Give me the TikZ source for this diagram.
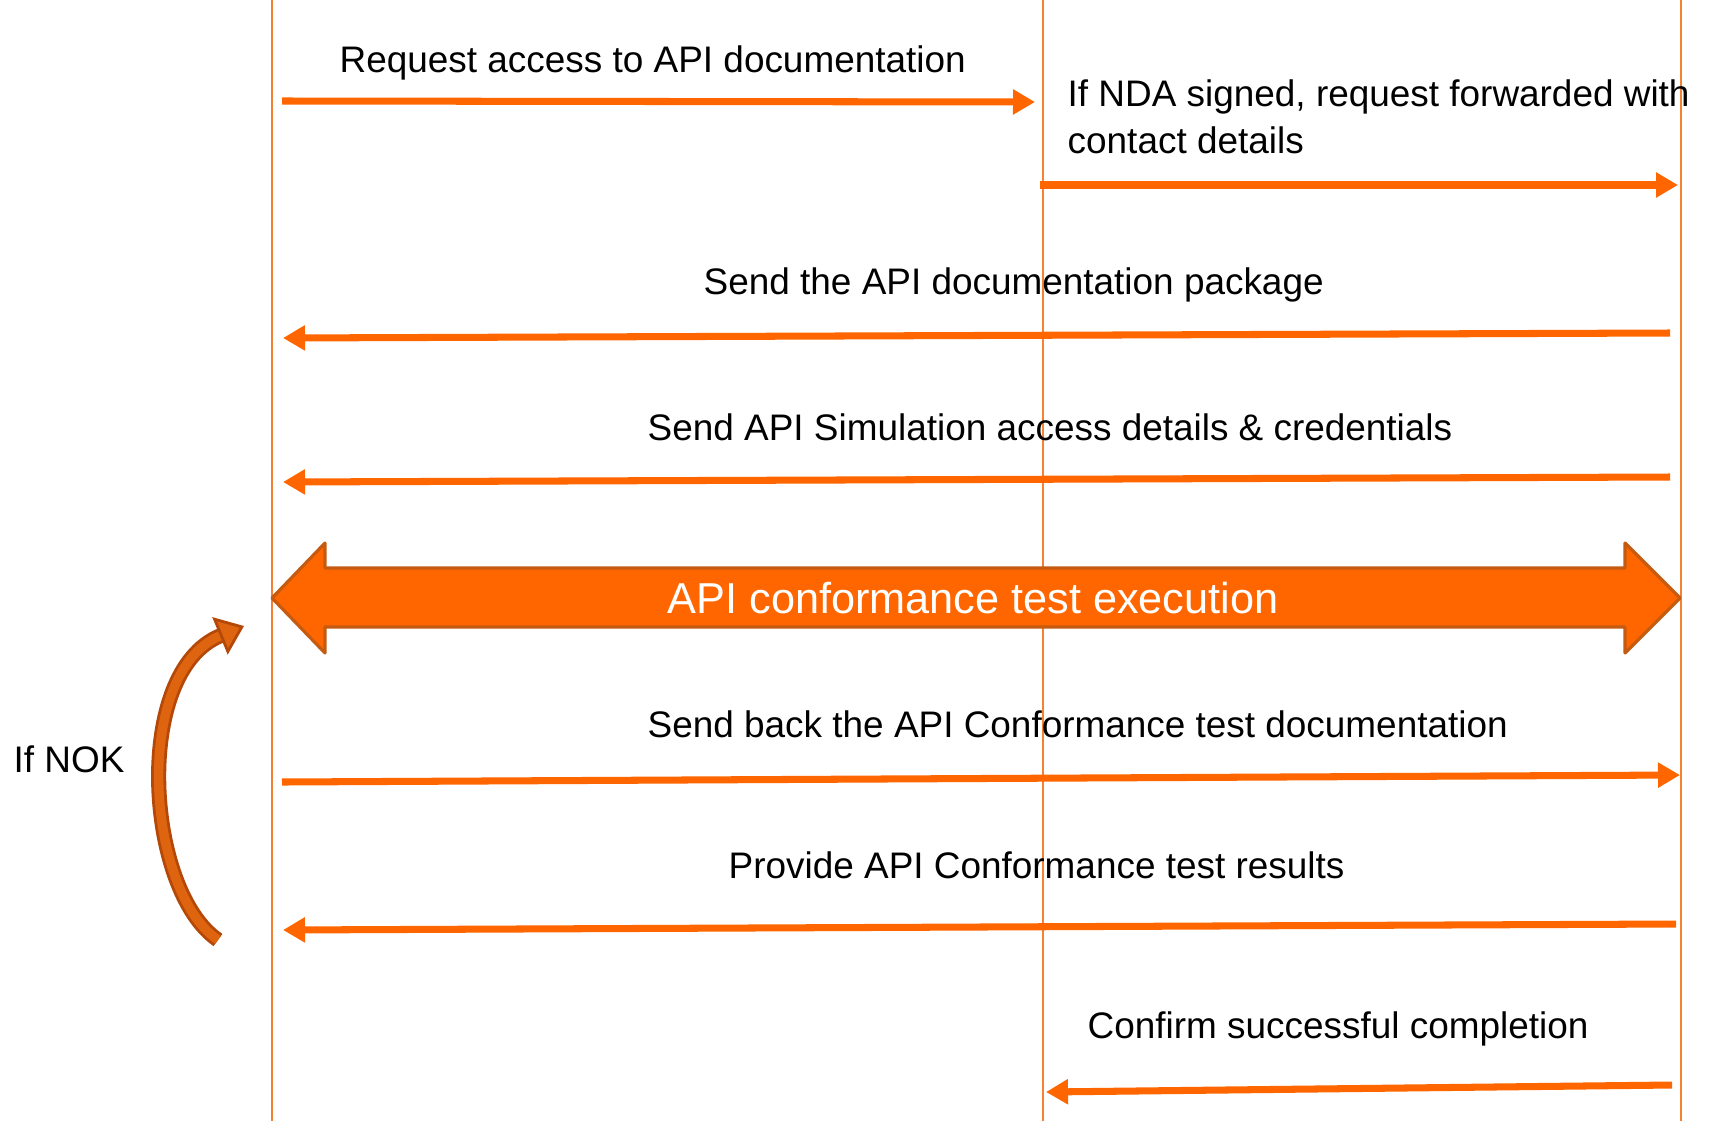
\documentclass[tikz,border=0pt]{standalone}
\usepackage{fontspec}
\setmainfont{Liberation Sans}
\usetikzlibrary{arrows.meta}
\definecolor{lifeorange}{RGB}{245,130,50}
\definecolor{msgorange}{RGB}{255,102,0}
\definecolor{edgeorange}{RGB}{197,90,17}
\definecolor{nokorange}{RGB}{222,100,16}
\definecolor{nokedge}{RGB}{180,72,8}

\begin{document}
\begin{tikzpicture}[
    x=0.01cm, y=-0.01cm,
    life/.style={draw=lifeorange, line width=0.5pt},
    msg/.style={draw=msgorange, line width=2pt, ->},
    lbl/.style={anchor=base west, inner sep=0pt, font=\fontsize{10.5}{13.4}\selectfont},
    bigarrow/.style={fill=msgorange, draw=edgeorange, line width=0.9pt, line join=round},
    nok/.style={draw=nokedge, line width=0.8pt, double=nokorange, double distance=0.095cm,
        -{Triangle[length=0.26cm, width=0.40cm, fill=nokorange, line width=0.8pt]}},
    >={Triangle[length=0.22cm, width=0.24cm]}
]
    \useasboundingbox (0,0) rectangle (1710,1121);

    % 生命线 (3条竖线)
    \coordinate (L0) at (272,0);   \coordinate (L1) at (272,1121);   % 左
    \coordinate (M0) at (1043,0);  \coordinate (M1) at (1043,1121);  % 中
    \coordinate (R0) at (1681,0);  \coordinate (R1) at (1681,1121);  % 右
    \draw[life] (L0) -- (L1);
    \draw[life] (M0) -- (M1);
    \draw[life] (R0) -- (R1);

    % --- 消息 1, 2 ---
    \coordinate (m1s) at (282,101);   \coordinate (m1e) at (1035,102);
    \coordinate (m2s) at (1040,185);  \coordinate (m2e) at (1678,185);
    \draw[msg] (m1s) -- (m1e);
    \draw[msg] (m2s) -- (m2e);
    \node[lbl] (t1) at (339,72) {Request access to API documentation};
    \node[lbl, anchor=north west, align=left] (t2) at (1067,79)
        {If NDA signed, request forwarded with\\contact details};

    % --- 消息 3, 4 (从右到左) ---
    \coordinate (m3s) at (1670,333);  \coordinate (m3e) at (283,338);
    \coordinate (m4s) at (1670,477);  \coordinate (m4e) at (283,482);
    \draw[msg] (m3s) -- (m3e);
    \draw[msg] (m4s) -- (m4e);
    \node[lbl] (t3) at (703,294) {Send the API documentation package};
    \node[lbl] (t4) at (647,440) {Send API Simulation access details \& credentials};

    % --- 双向大箭头 ---
    \coordinate (BL) at (272,598);
    \coordinate (BR) at (1680,598);
    \draw[bigarrow] (BL) -- ++(53,-55) -- ++(0,25) -- (1625,568) -- ++(0,-25)
        -- (BR) -- ++(-55,55) -- ++(0,-26) -- (325,627) -- ++(0,26) -- cycle;
    \node[lbl, font=\fontsize{12.3}{15}\selectfont, text=white] (exec) at (667,613)
        {API conformance test execution};

    % --- 消息 5, 6, 7 ---
    \coordinate (m5s) at (282,782);   \coordinate (m5e) at (1680,775);
    \coordinate (m6s) at (1676,924);  \coordinate (m6e) at (283,930);
    \coordinate (m7s) at (1672,1085); \coordinate (m7e) at (1046,1092);
    \draw[msg] (m5s) -- (m5e);
    \draw[msg] (m6s) -- (m6e);
    \draw[msg] (m7s) -- (m7e);
    \node[lbl] (t5) at (647,737) {Send back the API Conformance test documentation};
    \node[lbl] (t6) at (728,878) {Provide API Conformance test results};
    \node[lbl] (t7) at (1087,1038) {Confirm successful completion};

    % --- 左侧回环 ---
    \node[lbl] (nokl) at (13,772) {If NOK};
    \coordinate (nokS) at (218,940);
    \coordinate (nokE) at (244,626);
    \draw[nok] (nokS) .. controls (145,890) and (132,672) .. (nokE);

\end{tikzpicture}
\end{document}
